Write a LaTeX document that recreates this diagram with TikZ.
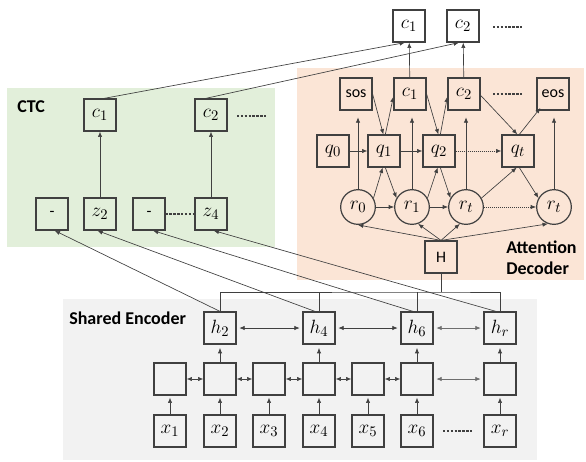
\documentclass[tikz,border=0pt]{standalone}
\usepackage{fontspec}
\setmainfont{Carlito}
\usetikzlibrary{arrows.meta}
\definecolor{ctcgreen}{RGB}{226,239,218}
\definecolor{attorange}{RGB}{251,229,214}
\definecolor{encgray}{RGB}{242,242,242}
\definecolor{ln}{RGB}{64,64,64}
\definecolor{lnlight}{RGB}{110,110,110}
\begin{document}
\begin{tikzpicture}[x=0.75pt,y=-0.75pt,
  box/.style={draw=ln,line width=0.9pt,minimum size=24pt,inner sep=0pt,font=\fontsize{15}{17}\selectfont},
  circ/.style={circle,draw=ln,line width=0.9pt,minimum size=26pt,inner sep=0pt,font=\fontsize{15}{17}\selectfont},
  txtbox/.style={box,font=\fontsize{12}{14}\selectfont},
  arr/.style={draw=ln,line width=0.5pt,-{Latex[length=4pt,width=3.2pt]}},
  darr/.style={draw=ln,line width=0.5pt,{Latex[length=4pt,width=3.2pt]}-{Latex[length=4pt,width=3.2pt]}},
  lightdarr/.style={darr,draw=lnlight},
  dotarr/.style={arr,densely dotted},
  plain/.style={draw=ln,line width=0.5pt},
  dotsline/.style={draw=ln,line width=2pt,dash pattern=on 1.8pt off 1.1pt},
  title/.style={font=\fontsize{13.5}{15.5}\selectfont\bfseries,text=black,inner sep=0pt}
]
\useasboundingbox (0,0) rectangle (586,461);
% backgrounds
\fill[ctcgreen] (7,88) rectangle (275,247);
\fill[attorange] (297,68) rectangle (584,280);
\fill[encgray] (63,299) rectangle (537,460);

% labels
\node[title,anchor=west] (lctc) at (17,107) {CTC};
\node[title,anchor=west] (lenc) at (69,318) {Shared Encoder};
\node[title,anchor=west,align=left] (ldec) at (506,258) {Attention\\Decoder};

% top outputs
\node[box] (tc1) at (409,26) {$c_1$};
\node[box] (tc2) at (463,26) {$c_2$};
\coordinate (td1) at (493,27);
\coordinate (td2) at (522,27);
\draw[dotsline] (td1) -- (td2);

% CTC
\node[box] (cc1) at (100,115) {$c_1$};
\node[box] (cc2) at (211,115) {$c_2$};
\coordinate (cd1) at (237,116);
\coordinate (cd2) at (267,116);
\draw[dotsline] (cd1) -- (cd2);
\node[txtbox] (m1) at (52,214) {-};
\node[box] (z2) at (100,214) {$z_2$};
\node[txtbox] (m2) at (149,214) {-};
\node[box] (z4) at (211,214) {$z_4$};
\draw[dotsline] (m2) -- (z4);
\draw[arr] (z2) -- (cc1);
\draw[arr] (z4) -- (cc2);

% decoder
\node[txtbox] (sos) at (356,94) {sos};
\node[box] (dc1) at (410,94) {$c_1$};
\node[box] (dc2) at (464,94) {$c_2$};
\node[txtbox] (eos) at (553,94) {eos};
\coordinate (dd1) at (493,94);
\coordinate (dd2) at (522,94);
\draw[dotsline] (dd1) -- (dd2);
\node[box] (q0) at (333,151) {$q_0$};
\node[box] (q1) at (384,151) {$q_1$};
\node[box] (q2) at (439,151) {$q_2$};
\node[box] (qt) at (518,151) {$q_t$};
\node[circ] (r0) at (358,207) {$r_0$};
\node[circ] (r1) at (412,207) {$r_1$};
\node[circ] (rt) at (466,207) {$r_t$};
\node[circ] (rt2) at (554,207) {$r_t$};
\node[txtbox] (H) at (441,257) {H};

% decoder edges
\draw[arr] (dc1) -- (tc1);
\draw[arr] (dc2) -- (tc2);
\draw[arr] ([xshift=3pt]cc1.north) -- ([xshift=-3pt]tc1.south);
\draw[arr] ([xshift=-4pt]cc2.north) -- ([xshift=-3pt]tc2.south);
\draw[arr] (q0) -- (q1);
\draw[arr] (q1) -- (q2);
\draw[dotarr] (q2) -- (qt);
\draw[arr] (r0) -- (r1);
\draw[arr] (r1) -- (rt);
\draw[dotarr] (rt) -- (rt2);
\draw[arr] (sos.east) -- ([xshift=-0.5pt]q1.north);
\draw[arr] ([xshift=1pt]q1.north) -- ([yshift=-2pt]dc1.west);
\draw[arr] (dc1.east) -- ([xshift=-0.5pt]q2.north);
\draw[arr] ([xshift=1pt]q2.north) -- ([yshift=-2pt]dc2.west);
\draw[arr] ([yshift=-1pt]dc2.east) -- ([xshift=-0.5pt]qt.north);
\draw[arr] ([xshift=1pt]qt.north) -- ([xshift=3pt,yshift=2pt]eos.south west);
\draw[arr,shorten >=5pt] (r0.north) -- (r0.north |- sos.south);
\draw[arr,shorten >=5pt] (r1.north) -- (r1.north |- dc1.south);
\draw[arr,shorten >=5pt] (rt.north) -- (rt.north |- dc2.south);
\draw[arr,shorten >=5pt] (rt2.north) -- (rt2.north |- eos.south);
\draw[arr] (r0.30) -- ([xshift=-1pt]q1.south);
\draw[arr] ([xshift=1pt]q1.south) -- (r1.150);
\draw[arr] (r1.30) -- ([xshift=-1pt]q2.south);
\draw[arr] ([xshift=1pt]q2.south) -- (rt.150);
\draw[arr] (rt.30) -- ([xshift=-1pt]qt.south);
\draw[arr] ([xshift=1pt]qt.south) -- (rt2.150);
\draw[arr] (H.north) -- (r0.south);
\draw[arr] (H.north) -- (r1.290);
\draw[arr] (H.north) -- (rt.250);
\draw[arr] (H.north) -- (rt2.250);

% encoder
\node[box] (h2) at (220,328) {$h_2$};
\node[box] (h4) at (319,328) {$h_4$};
\node[box] (h6) at (417,328) {$h_6$};
\node[box] (hr) at (500,328) {$h_r$};
\foreach \i/\xx in {1/170,2/220,3/269,4/319,5/368,6/417,7/500}{
  \node[box] (e\i) at (\xx,379) {};
}
\node[box] (x1) at (170,431) {$x_1$};
\node[box] (x2) at (220,431) {$x_2$};
\node[box] (x3) at (269,431) {$x_3$};
\node[box] (x4) at (319,431) {$x_4$};
\node[box] (x5) at (368,431) {$x_5$};
\node[box] (x6) at (417,431) {$x_6$};
\node[box] (xr) at (500,431) {$x_r$};
\coordinate (xd1) at (443,431);
\coordinate (xd2) at (472,431);
\draw[dotsline] (xd1) -- (xd2);
\foreach \i in {1,...,6}{
  \draw[arr,shorten >=1.5pt] (x\i) -- (e\i);
}
\draw[arr,shorten >=1.5pt] (xr) -- (e7);
\draw[arr,shorten >=2.5pt] (e2) -- (h2);
\draw[arr,shorten >=2.5pt] (e4) -- (h4);
\draw[arr,shorten >=2.5pt] (e6) -- (h6);
\draw[arr,shorten >=2.5pt] (e7) -- (hr);
\draw[darr] (e1) -- (e2);
\draw[darr] (e2) -- (e3);
\draw[darr] (e3) -- (e4);
\draw[darr] (e4) -- (e5);
\draw[darr] (e5) -- (e6);
\draw[lightdarr,shorten <=2pt,shorten >=2pt] (e6) -- (e7);
\draw[darr,shorten <=2pt,shorten >=2pt] (h2) -- (h4);
\draw[darr,shorten <=2pt,shorten >=2pt] (h4) -- (h6);
\draw[lightdarr,shorten <=2pt,shorten >=2pt] (h6) -- (hr);

% bus from H to encoder outputs
\coordinate (bus) at (441,292);
\draw[plain] (H.south) -- (bus);
\draw[plain] (h2.north) |- (bus) -| (hr.north);
\draw[plain] (h4.north) -- (h4.north |- bus);
\draw[plain] (h6.north) -- (h6.north |- bus);

% encoder to CTC
\draw[arr] (h2.north) -- ([xshift=2pt]m1.south);
\draw[arr] ([xshift=-3pt]h4.north) -- ([xshift=-2pt]z2.south);
\draw[arr] ([xshift=-3pt]h6.north) -- ([xshift=3pt]m2.south);
\draw[arr] ([xshift=-3pt]hr.north) -- ([xshift=2pt]z4.south);
\end{tikzpicture}
\end{document}
